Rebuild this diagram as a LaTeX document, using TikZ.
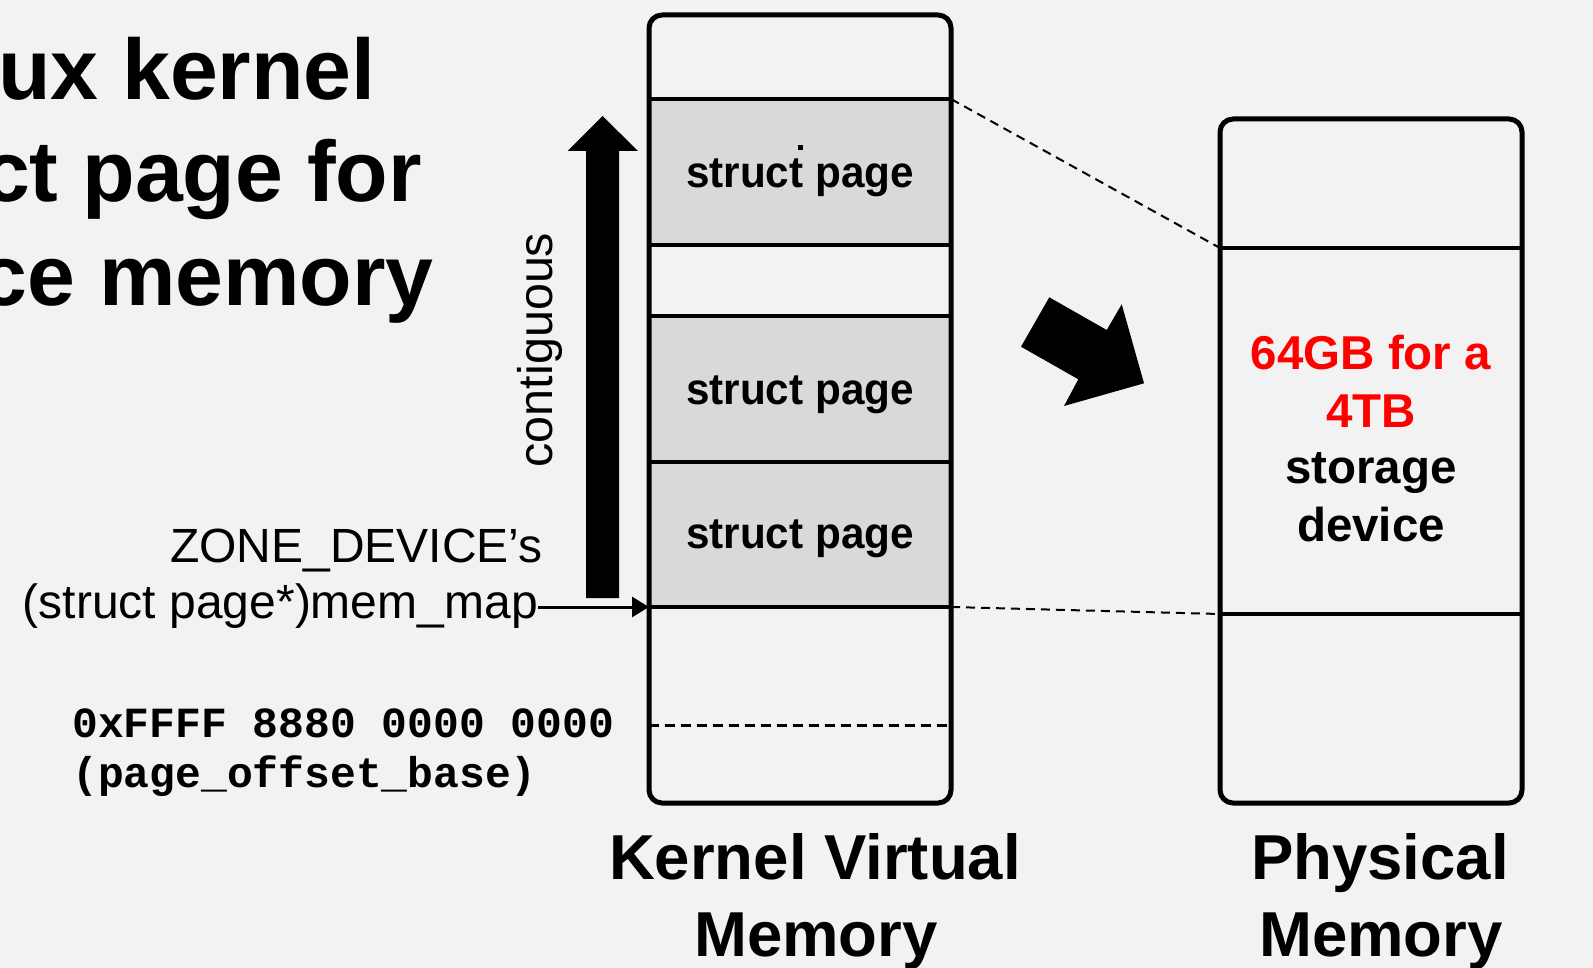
\documentclass[tikz,border=0pt]{standalone}
\usepackage{fontspec}
\setmainfont{Liberation Sans}
\newfontfamily\monofam{Liberation Mono}
\usetikzlibrary{arrows.meta}
\definecolor{bgcol}{HTML}{F2F2F2}
\definecolor{spcol}{HTML}{D9D9D9}
\definecolor{redtxt}{HTML}{FF0000}
\begin{document}
\begin{tikzpicture}[x=1pt,y=-1pt,
  titletxt/.style={font=\fontsize{86}{100}\selectfont\bfseries, inner sep=0pt, anchor=base east},
  sptext/.style={font=\fontsize{44}{50}\selectfont\bfseries, inner sep=0pt, anchor=base},
  phystxt/.style={font=\fontsize{47.5}{57}\selectfont\bfseries, inner sep=0pt, anchor=base},
  labeltxt/.style={font=\fontsize{63.5}{77}\selectfont\bfseries, inner sep=0pt, anchor=base},
  plaintxt/.style={font=\fontsize{48}{56}\selectfont, inner sep=0pt, anchor=base east},
  addrtxt/.style={font=\fontsize{43}{50}\selectfont\monofam\bfseries, inner sep=0pt, anchor=base west},
  boxline/.style={line width=5pt, rounded corners=13pt},
  divline/.style={line width=4.5pt},
  mapline/.style={line width=2pt, dash pattern=on 9pt off 6pt},
]
\useasboundingbox (0,0) rectangle (1593,968);
\fill[bgcol] (0,0) rectangle (1593,968);

% title (clipped at the left edge, as in the reference)
\node[titletxt] (t1) at (376,100) {ux kernel};
\node[titletxt] (t2) at (422,202) {ct page for};
\node[titletxt] (t3) at (434,306) {ce memory};

% kernel virtual memory column
\coordinate (kL1) at (649,99);  \coordinate (kR1) at (951,99);
\coordinate (kL2) at (649,245); \coordinate (kR2) at (951,245);
\coordinate (kL3) at (649,316); \coordinate (kR3) at (951,316);
\coordinate (kL4) at (649,462); \coordinate (kR4) at (951,462);
\coordinate (kL5) at (649,607); \coordinate (kR5) at (951,607);
\coordinate (kLd) at (649,725); \coordinate (kRd) at (951,725);
\fill[spcol] (kL1) rectangle (kR2);
\fill[spcol] (kL3) rectangle (kR5);
\draw[divline] (kL1) -- (kR1);
\draw[divline] (kL2) -- (kR2);
\draw[divline] (kL3) -- (kR3);
\draw[divline] (kL4) -- (kR4);
\draw[divline] (kL5) -- (kR5);
\draw[line width=3pt, dash pattern=on 10pt off 6pt] (kLd) -- (kRd);
\draw[boxline] (649,15) rectangle (951,803);

\node[sptext] (sp1) at (800,188) {\scalebox{0.96}[1]{struct page}};
\node[sptext] (sp2) at (800,404) {\scalebox{0.96}[1]{struct page}};
\node[sptext] (sp3) at (800,548) {\scalebox{0.96}[1]{struct page}};
\fill (798,145) rectangle (802.5,150);

% physical memory column
\coordinate (pL1) at (1220,248); \coordinate (pR1) at (1522,248);
\coordinate (pL2) at (1220,614); \coordinate (pR2) at (1522,614);
\draw[divline] (pL1) -- (pR1);
\draw[divline] (pL2) -- (pR2);
\draw[boxline] (1220,119) rectangle (1522,803);

\node[phystxt, text=redtxt] (ph1) at (1371,370) {64GB for a};
\node[phystxt, text=redtxt] (ph2) at (1371,427) {4TB};
\node[phystxt] (ph3) at (1371,483) {storage};
\node[phystxt] (ph4) at (1371,541) {device};

% mapping lines
\draw[mapline] (kR1) -- (pL1);
\draw[mapline] (kR5) -- (pL2);

% contiguous block arrow
\fill (586,598) -- (619,598) -- (619,151) -- (638,151) -- (602.5,116)
      -- (567.5,151) -- (586,151) -- cycle;
\node[font=\fontsize{48.5}{56}\selectfont, inner sep=0pt, anchor=base, rotate=90] (cont) at (552,350) {contiguous};

% fat arrow
\fill (1049.3,297.3) -- (1106.7,330) -- (1121.7,304.3) -- (1144,383.3)
      -- (1064,406) -- (1078.3,379.3) -- (1021,346.7) -- cycle;

% left labels
\node[plaintxt] (zd) at (543,562) {ZONE\_DEVICE’s};
\node[plaintxt] (mm) at (538,618) {(struct page*)mem\_map};
\draw[line width=3pt, -{Triangle[length=17pt,width=20pt]}] (mm.east |- kL5) -- (kL5);

\node[addrtxt] (ad1) at (72,737) {0xFFFF 8880 0000 0000};
\node[addrtxt] (ad2) at (72,787) {(page\_offset\_base)};

% column labels
\node[labeltxt] (kv1) at (815,879) {Kernel Virtual};
\node[labeltxt] (kv2) at (816,956) {Memory};
\node[labeltxt] (pm1) at (1380,879) {Physical};
\node[labeltxt] (pm2) at (1381,956) {Memory};
\end{tikzpicture}
\end{document}
